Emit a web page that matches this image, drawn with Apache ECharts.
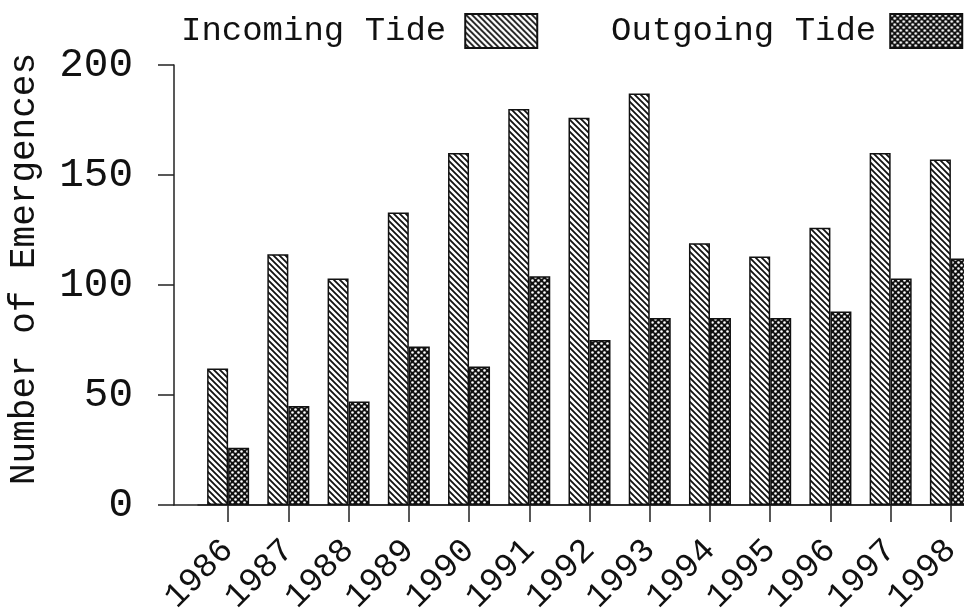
<!DOCTYPE html>
<html>
<head>
<meta charset="utf-8">
<script src="https://cdn.jsdelivr.net/npm/echarts@6/dist/echarts.min.js"></script>
<style>
html,body{margin:0;padding:0;background:#fff;}
#chart{width:964px;height:611px;}
</style>
</head>
<body>
<div id="chart"></div>
<script>
const years = ['1986','1987','1988','1989','1990','1991','1992','1993','1994','1995','1996','1997','1998'];
const incoming = [62,114,103,133,160,180,176,187,119,113,126,160,157];
const outgoing = [26,45,47,72,63,104,75,85,85,85,88,103,112];
const yTicks = [0,50,100,150,200];
const seriesNames = ['Incoming Tide','Outgoing Tide'];
const yTitle = 'Number of Emergences';

const FONT = '"Liberation Mono", "DejaVu Sans Mono", monospace';

function hatchPattern(){
  const c = document.createElement('canvas');
  c.width = 6; c.height = 6;
  const g = c.getContext('2d');
  g.fillStyle = '#fff'; g.fillRect(0,0,6,6);
  g.strokeStyle = '#111'; g.lineWidth = 1.8;
  g.beginPath();
  g.moveTo(-1,-1); g.lineTo(7,7);
  g.moveTo(-7,-1); g.lineTo(1,7);
  g.moveTo(5,-1); g.lineTo(13,7);
  g.stroke();
  return c;
}
function dotPattern(){
  const c = document.createElement('canvas');
  c.width = 6; c.height = 6;
  const g = c.getContext('2d');
  g.fillStyle = '#111'; g.fillRect(0,0,6,6);
  g.fillStyle = '#fff';
  [[1.5,1.5],[4.5,4.5]].forEach(p=>{
    g.beginPath(); g.arc(p[0],p[1],1.3,0,Math.PI*2); g.fill();
  });
  return c;
}

const chart = echarts.init(document.getElementById('chart'), null, {renderer:'canvas'});
const axisColor = '#222';
chart.setOption({
  backgroundColor:'#fff',
  animation:false,
  textStyle:{fontFamily:FONT, color:'#111'},
  legend:[
    {left:181, top:13, data:[seriesNames[0]], align:'right', icon:'rect', itemWidth:72, itemHeight:34, padding:0,
     textStyle:{fontFamily:FONT, fontSize:34, color:'#111', padding:[0,14,0,0]}},
    {left:611, top:13, data:[seriesNames[1]], align:'right', icon:'rect', itemWidth:72, itemHeight:34, padding:0,
     textStyle:{fontFamily:FONT, fontSize:34, color:'#111', padding:[0,9,0,0]}}
  ],
  grid:[
    {left:174, width:807, top:65, bottom:106, outerBoundsMode:'none', containLabel:false},
    {left:198, width:783, top:65, bottom:106, outerBoundsMode:'none', containLabel:false}
  ],
  xAxis:[
    {gridIndex:0, type:'value', min:0, max:1, axisLine:{show:true, lineStyle:{color:axisColor, width:1.5}},
     axisTick:{show:false}, axisLabel:{show:false}, splitLine:{show:false}},
    {gridIndex:1, type:'category', data:years,
     axisLine:{show:true, lineStyle:{color:axisColor, width:1.5}},
     axisTick:{show:true, alignWithLabel:true, interval:0, length:17, lineStyle:{color:axisColor, width:1.5}},
     axisLabel:{rotate:45, interval:0, margin:40, fontFamily:FONT, fontSize:34, color:'#111', hideOverlap:false},
     splitLine:{show:false}}
  ],
  yAxis:[
    {gridIndex:0, type:'value', min:yTicks[0], max:yTicks[yTicks.length-1], interval:50,
     axisLine:{show:true, lineStyle:{color:axisColor, width:1.5}},
     axisTick:{show:true, length:16, lineStyle:{color:axisColor, width:1.5}},
     axisLabel:{margin:41, fontFamily:FONT, fontSize:41, color:'#111'},
     splitLine:{show:false}},
    {gridIndex:1, type:'value', min:yTicks[0], max:yTicks[yTicks.length-1], show:false, splitLine:{show:false}}
  ],
  graphic:[
    {type:'text', x:24, y:269, rotation:Math.PI/2,
     style:{text:yTitle, font:'36px ' + FONT, fill:'#111', align:'center', verticalAlign:'middle'}}
  ],
  series:[
    {name:seriesNames[0], type:'bar', xAxisIndex:1, yAxisIndex:1, data:incoming,
     barWidth:21, barGap:'0%',
     itemStyle:{color:{image:hatchPattern(), repeat:'repeat'}, borderColor:'#111', borderWidth:1.5}},
    {name:seriesNames[1], type:'bar', xAxisIndex:1, yAxisIndex:1, data:outgoing,
     barWidth:21, barGap:'0%',
     itemStyle:{color:{image:dotPattern(), repeat:'repeat'}, borderColor:'#111', borderWidth:1.5}}
  ]
});
</script>
</body>
</html>
